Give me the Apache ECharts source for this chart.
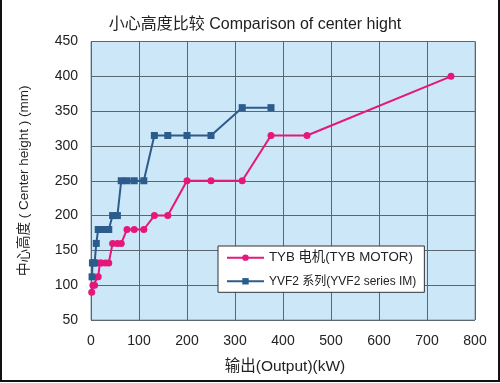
<!DOCTYPE html>
<html>
<head>
<meta charset="utf-8">
<script src="https://cdn.jsdelivr.net/npm/echarts@6/dist/echarts.min.js"></script>
<style>
html,body{margin:0;padding:0;background:#fff;}
#wrap{position:relative;width:500px;height:383px;}
#chart{width:500px;height:383px;}
#frame{position:absolute;left:0;top:0;width:500px;height:382px;box-sizing:border-box;border-left:2px solid #111;border-right:2px solid #111;border-bottom:2px solid #111;pointer-events:none;}
</style>
</head>
<body>
<div id="wrap"><div id="chart"></div><div id="frame"></div></div>
<script>
const titleText = '小心高度比较 Comparison of center hight';
const xAxisName = '输出(Output)(kW)';
const yAxisName = '中心高度 ( Center height ) (mm)';
const seriesNames = ['TYB 电机(TYB MOTOR)', 'YVF2 系列(YVF2 series IM)'];

// TYB motor: output (kW) and center height (mm)
const tybPower  = [1.5, 4, 7.5, 15, 18.5, 22, 30, 37, 45, 55, 63, 75, 90, 110, 132, 160, 200, 250, 315, 375, 450, 750];
const tybHeight = [90, 100, 100, 112, 132, 132, 132, 132, 160, 160, 160, 180, 180, 180, 200, 200, 250, 250, 250, 315, 315, 400];

// YVF2 series
const yvfPower  = [2.2, 3, 5.5, 7.5, 11, 15, 18.5, 22, 30, 37, 45, 55, 63, 75, 90, 110, 132, 160, 200, 250, 315, 375];
const yvfHeight = [112, 132, 132, 132, 160, 180, 180, 180, 180, 180, 200, 200, 250, 250, 250, 250, 315, 315, 315, 315, 355, 355];

const xTicks = [0, 100, 200, 300, 400, 500, 600, 700, 800];
const yTicks = [50, 100, 150, 200, 250, 300, 350, 400, 450];

const pair = (xs, ys) => xs.map((x, i) => [x, ys[i]]);

const chart = echarts.init(document.getElementById('chart'), null, {renderer: 'canvas'});
const font = 'Liberation Sans, Arial, Noto Sans CJK SC, sans-serif';
chart.setOption({
  animation: false,
  backgroundColor: '#fff',
  textStyle: {fontFamily: font},
  title: {
    text: titleText, left: 250, top: 12, textAlign: 'center',
    textStyle: {fontSize: 16, fontWeight: 'normal', color: '#222', fontFamily: font}
  },
  grid: {
    left: 91, right: 25, top: 41.5, bottom: 63,
    show: true, backgroundColor: '#cbe7f8', borderColor: '#8a9aa8', borderWidth: 1
  },
  legend: {
    orient: 'vertical', left: 218, top: 246,
    backgroundColor: '#fff', borderColor: '#333', borderWidth: 1,
    padding: [5, 8, 5, 8], itemGap: 11, itemWidth: 37, itemHeight: 8,
    textStyle: {fontSize: 13, color: '#222', fontFamily: font,
      rich: {a: {fontSize: 13.3, color: '#222'}, b: {fontSize: 12, color: '#222'}}},
    formatter: name => (name === seriesNames[0] ? '{a|' : '{b|') + name + '}',
    data: seriesNames
  },
  xAxis: {
    type: 'value', min: xTicks[0], max: xTicks[xTicks.length - 1], interval: 100,
    name: xAxisName, nameLocation: 'middle', nameGap: 39,
    nameTextStyle: {fontSize: 15.5, color: '#222', padding: [0, 0, 0, 4]},
    axisLine: {show: false}, axisTick: {show: false},
    axisLabel: {fontSize: 14, color: '#222', margin: 14},
    splitLine: {show: true, lineStyle: {color: '#5a6670', width: 1}}
  },
  yAxis: {
    type: 'value', min: yTicks[0], max: yTicks[yTicks.length - 1], interval: 50,
    name: yAxisName, nameLocation: 'middle', nameGap: 60, nameRotate: 90,
    nameTextStyle: {fontSize: 13.5, color: '#222'},
    axisLine: {show: false}, axisTick: {show: false},
    axisLabel: {fontSize: 14, color: '#222', margin: 13},
    splitLine: {show: true, lineStyle: {color: '#5a6670', width: 1}}
  },
  series: [
    {
      name: seriesNames[0], type: 'line', data: pair(tybPower, tybHeight),
      symbol: 'circle', symbolSize: 7,
      lineStyle: {color: '#e5177b', width: 2},
      itemStyle: {color: '#e5177b'}
    },
    {
      name: seriesNames[1], type: 'line', data: pair(yvfPower, yvfHeight),
      symbol: 'rect', symbolSize: 7,
      lineStyle: {color: '#2c5b8c', width: 2},
      itemStyle: {color: '#2c5b8c'}
    }
  ]
});
</script>
</body>
</html>
